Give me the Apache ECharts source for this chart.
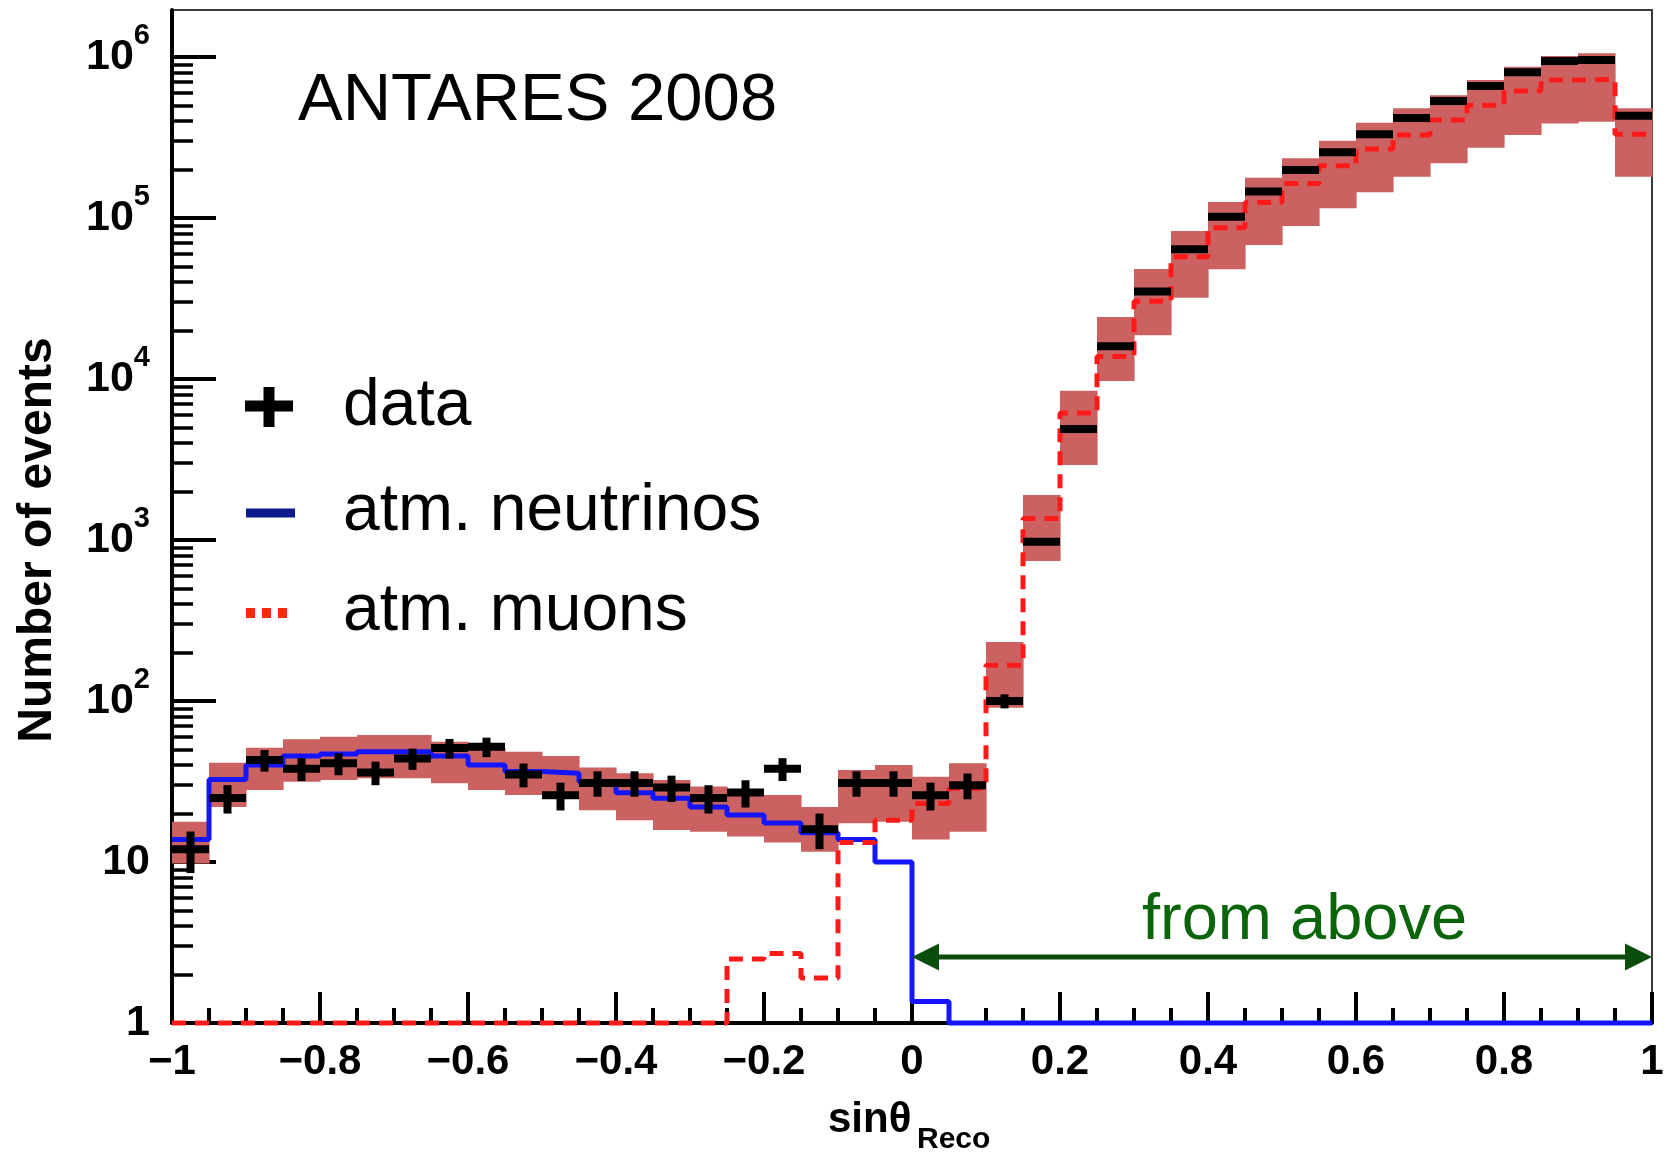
<!DOCTYPE html>
<html>
<head>
<meta charset="utf-8">
<script src="https://cdn.jsdelivr.net/npm/echarts@6/dist/echarts.min.js"></script>
<style>
  html, body { margin: 0; padding: 0; background: #ffffff; }
  #chart { width: 1669px; height: 1158px; }
</style>
</head>
<body>
<div id="chart"></div>
<script>
// Histogram binning in sin(theta_reco): 40 bins of width 0.05 from -1 to 1
const BIN_MIN = -1;
const BIN_WIDTH = 0.05;

// Observed events per bin
const dataCounts = [12, 25, 43, 38, 41, 36, 44, 51, 52, 35,
                    26, 31, 31, 29, 25, 27, 38, 16, 31, 31,
                    26, 30, 100, 975, 4900, 16000, 35000, 64000, 102000, 146000,
                    199000, 256000, 331000, 418000, 533000, 661000, 804000, 944000, 958000, 432000];

// Simulated atmospheric neutrinos (0 = empty bin)
const neutrinos = [13.8, 32.6, 40.0, 45.5, 46.9, 48.4, 48.4, 45.5, 40.0, 36.5,
                   35.6, 31.5, 26.9, 24.9, 22.0, 19.6, 17.5, 15.2, 13.8, 10.0,
                   1.36, 0, 0, 0, 0, 0, 0, 0, 0, 0,
                   0, 0, 0, 0, 0, 0, 0, 0, 0, 0];

// Simulated atmospheric muons (0 = empty bin)
const muons = [0, 0, 0, 0, 0, 0, 0, 0, 0, 0,
               0, 0, 0, 0, 0, 2.5, 2.7, 1.9, 13.2, 18.2,
               23.1, 28.7, 167, 1360, 6150, 13800, 30400, 57500, 87100, 125000,
               164000, 211000, 268000, 328000, 407000, 501000, 615000, 719000, 727000, 331000];

// Systematic uncertainty band on the total simulation
const bandHigh = [17.8, 41.4, 51.3, 57.8, 60.0, 61.5, 61.5, 55.9, 50.9, 48.4,
                  45.5, 38.7, 35.6, 32.3, 29.4, 26.1, 26.1, 22.0, 37.3, 40.0,
                  33.9, 41.0, 233, 1905, 8470, 24300, 48300, 83000, 126000, 178000,
                  235000, 302000, 391000, 480000, 580000, 720000, 871000, 1014000, 1054000, 480000];
const bandLow = [9.8, 22.0, 28.0, 31.5, 32.3, 33.1, 33.1, 30.8, 28.0, 26.1,
                 24.9, 21.0, 18.2, 15.8, 15.4, 14.4, 13.2, 11.6, 17.4, 17.8,
                 13.8, 15.4, 90.7, 741, 2920, 9720, 18700, 32000, 48000, 67900,
                 89200, 115000, 144500, 180700, 218600, 273500, 328000, 387000, 396000, 180700];

// "from above" region marker: spans sin(theta) 0 .. 1 at this height
const fromAboveSpan = [0, 1];
const fromAboveLevel = 2.57;

// Axis ticks and labels
const xTickValues = [-1, -0.8, -0.6, -0.4, -0.2, 0, 0.2, 0.4, 0.6, 0.8, 1];
const xTickLabels = ['\u22121', '\u22120.8', '\u22120.6', '\u22120.4', '\u22120.2', '0', '0.2', '0.4', '0.6', '0.8', '1'];
const yTickValues = [1, 10, 100, 1000, 10000, 100000, 1000000];
const yTickLabels = ['{p|1}', '{p|10}', '{b|10}{s|2}', '{b|10}{s|3}', '{b|10}{s|4}', '{b|10}{s|5}', '{b|10}{s|6}'];

const Y_MIN = 1;
const Y_MAX = 1.96e6;

// Log-axis minor ticks at 2..9 x 10^k
const yMinorTicks = [];
for (let k = 0; k < 6; k++) {
  for (let m = 2; m <= 9; m++) yMinorTicks.push(m * Math.pow(10, k));
}

const FONT = '"Liberation Sans", Arial, Helvetica, sans-serif';
const BAND_COLOR = '#cc6161';
const NU_COLOR = '#1414ff';
const MU_COLOR = '#ff1a1a';
const ARROW_COLOR = '#0b4d0b';
const TEXT_GREEN = '#0a650a';

function binLo(i) { return BIN_MIN + i * BIN_WIDTH; }
function binHi(i) { return BIN_MIN + (i + 1) * BIN_WIDTH; }

// Step outline of a histogram; empty bins sit on the axis floor
function stepPoints(values) {
  const pts = [];
  values.forEach((v, i) => {
    const y = Math.max(v, Y_MIN);
    pts.push([binLo(i), y]);
    pts.push([binHi(i), y]);
  });
  return pts;
}

const bandData = bandLow.map((lo, i) => [binLo(i), binHi(i), lo, bandHigh[i]]);
const crossData = dataCounts.map((n, i) => [binLo(i), binHi(i), n]);

const chart = echarts.init(document.getElementById('chart'), null, { renderer: 'canvas' });

chart.setOption({
  animation: false,
  backgroundColor: '#ffffff',
  grid: {
    left: 172, right: 17, top: 10, bottom: 135,
    show: true, borderColor: '#3a3a3a', borderWidth: 2, backgroundColor: 'transparent'
  },
  xAxis: {
    type: 'value', min: -1, max: 1, interval: 0.2,
    axisLine: { onZero: false, lineStyle: { color: '#000', width: 4 } },
    axisTick: { show: true, inside: true, length: 31, lineStyle: { color: '#000', width: 4 } },
    minorTick: { show: true, splitNumber: 4, length: 15, lineStyle: { color: '#000', width: 4 } },
    axisLabel: {
      margin: 18, fontSize: 42, fontWeight: 'bold', color: '#000', fontFamily: FONT,
      showMinLabel: true, showMaxLabel: true,
      formatter: (v) => {
        const i = xTickValues.findIndex(t => Math.abs(t - v) < 1e-6);
        return i >= 0 ? xTickLabels[i] : '';
      }
    },
    splitLine: { show: false }, minorSplitLine: { show: false }
  },
  yAxis: [{
    type: 'log', logBase: 10, min: Y_MIN, max: Y_MAX,
    axisLine: { show: true, onZero: false, lineStyle: { color: '#000', width: 4 } },
    axisTick: { show: true, inside: true, length: 44, lineStyle: { color: '#000', width: 4 }, customValues: yTickValues },
    axisLabel: {
      margin: 22, color: '#000', fontFamily: FONT, customValues: yTickValues,
      formatter: (v) => {
        const i = yTickValues.findIndex(t => Math.abs(Math.log10(t) - Math.log10(v)) < 1e-6);
        return i >= 0 ? yTickLabels[i] : '';
      },
      rich: {
        p: { fontSize: 43, lineHeight: 43, fontWeight: 'bold', fontFamily: FONT, color: '#000' },
        b: { fontSize: 43, lineHeight: 43, fontWeight: 'bold', fontFamily: FONT, color: '#000', verticalAlign: 'bottom' },
        s: { fontSize: 29, lineHeight: 29, fontWeight: 'bold', fontFamily: FONT, color: '#000', verticalAlign: 'bottom', padding: [15, 0, 28, 0] }
      }
    },
    splitLine: { show: false }
  }, {
    type: 'log', logBase: 10, min: Y_MIN, max: Y_MAX, position: 'left', offset: 0,
    axisLine: { show: false, onZero: false },
    axisTick: { show: true, inside: true, length: 21, lineStyle: { color: '#000', width: 3.5 }, customValues: yMinorTicks },
    axisLabel: { show: false },
    splitLine: { show: false }
  }],
  series: [
    {
      name: 'systematics', type: 'custom', z: 1,
      data: bandData,
      encode: { x: [0, 1], y: [2, 3] },
      renderItem: (params, api) => {
        const p1 = api.coord([api.value(0), api.value(3)]);
        const p2 = api.coord([api.value(1), api.value(2)]);
        return {
          type: 'rect',
          shape: { x: p1[0], y: p1[1], width: p2[0] - p1[0] + 0.6, height: p2[1] - p1[1] },
          style: { fill: BAND_COLOR }
        };
      }
    },
    {
      name: 'atm. neutrinos', type: 'line', z: 3, clip: false,
      data: stepPoints(neutrinos), showSymbol: false, symbol: 'none',
      lineStyle: { color: NU_COLOR, width: 5 }
    },
    {
      name: 'atm. muons', type: 'line', z: 4, clip: false,
      data: stepPoints(muons), showSymbol: false, symbol: 'none',
      lineStyle: { color: MU_COLOR, width: 5, type: [14, 9] }
    },
    {
      name: 'data', type: 'custom', z: 5,
      data: crossData,
      encode: { x: [0, 1], y: 2 },
      renderItem: (params, api) => {
        const lo = api.value(0), hi = api.value(1), n = api.value(2);
        const c = (lo + hi) / 2, e = Math.sqrt(n);
        const a = api.coord([lo, n]), b = api.coord([hi, n]);
        const t = api.coord([c, n + e]), u = api.coord([c, Math.max(n - e, Y_MIN)]);
        return {
          type: 'group',
          children: [
            { type: 'line', shape: { x1: a[0], y1: a[1], x2: b[0], y2: b[1] }, style: { stroke: '#000', lineWidth: 8 } },
            { type: 'line', shape: { x1: t[0], y1: t[1], x2: u[0], y2: u[1] }, style: { stroke: '#000', lineWidth: 8 } }
          ]
        };
      }
    },
    {
      name: 'from above', type: 'custom', z: 6,
      data: [[fromAboveSpan[0], fromAboveSpan[1], fromAboveLevel]],
      encode: { x: [0, 1], y: 2 },
      renderItem: (params, api) => {
        const a = api.coord([api.value(0), api.value(2)]);
        const b = api.coord([api.value(1), api.value(2)]);
        const L = 27, H = 13.5;
        return {
          type: 'group',
          children: [
            { type: 'line', shape: { x1: a[0] + L - 2, y1: a[1], x2: b[0] - L + 2, y2: b[1] }, style: { stroke: ARROW_COLOR, lineWidth: 5 } },
            { type: 'polygon', shape: { points: [[a[0], a[1]], [a[0] + L, a[1] - H], [a[0] + L, a[1] + H]] }, style: { fill: ARROW_COLOR } },
            { type: 'polygon', shape: { points: [[b[0], b[1]], [b[0] - L, b[1] - H], [b[0] - L, b[1] + H]] }, style: { fill: ARROW_COLOR } }
          ]
        };
      }
    }
  ],
  graphic: [
    // experiment label
    { type: 'text', x: 298, y: 102, style: { text: 'ANTARES 2008', font: '67px ' + FONT, fill: '#000', align: 'left', verticalAlign: 'middle' } },
    // legend: data
    { type: 'rect', shape: { x: 245, y: 400.5, width: 48, height: 11 }, style: { fill: '#000' } },
    { type: 'rect', shape: { x: 263.5, y: 387, width: 11, height: 40 }, style: { fill: '#000' } },
    { type: 'text', x: 343, y: 406.5, style: { text: 'data', font: '66px ' + FONT, fill: '#000', align: 'left', verticalAlign: 'middle' } },
    // legend: atm. neutrinos
    { type: 'rect', shape: { x: 246, y: 508.5, width: 49, height: 9 }, style: { fill: '#0d1a8c' } },
    { type: 'text', x: 343, y: 511.5, style: { text: 'atm. neutrinos', font: '66px ' + FONT, fill: '#000', align: 'left', verticalAlign: 'middle' } },
    // legend: atm. muons
    { type: 'rect', shape: { x: 246, y: 608, width: 9, height: 10 }, style: { fill: '#ff2a0a' } },
    { type: 'rect', shape: { x: 262, y: 608, width: 9, height: 10 }, style: { fill: '#ff2a0a' } },
    { type: 'rect', shape: { x: 278, y: 608, width: 9, height: 10 }, style: { fill: '#ff2a0a' } },
    { type: 'text', x: 343, y: 611.5, style: { text: 'atm. muons', font: '66px ' + FONT, fill: '#000', align: 'left', verticalAlign: 'middle' } },
    // region annotation
    { type: 'text', x: 1142, y: 921, style: { text: 'from above', font: '65px ' + FONT, fill: TEXT_GREEN, align: 'left', verticalAlign: 'middle' } },
    // axis titles
    { type: 'text', x: 38, y: 540, rotation: Math.PI / 2, style: { text: 'Number of events', font: 'bold 48px ' + FONT, fill: '#000', align: 'center', verticalAlign: 'middle' } },
    { type: 'text', x: 828, y: 1120, style: { text: 'sin\u03b8', font: 'bold 42px ' + FONT, fill: '#000', align: 'left', verticalAlign: 'middle' } },
    { type: 'text', x: 917, y: 1140, style: { text: 'Reco', font: 'bold 30px ' + FONT, fill: '#000', align: 'left', verticalAlign: 'middle' } }
  ]
});
</script>
</body>
</html>
